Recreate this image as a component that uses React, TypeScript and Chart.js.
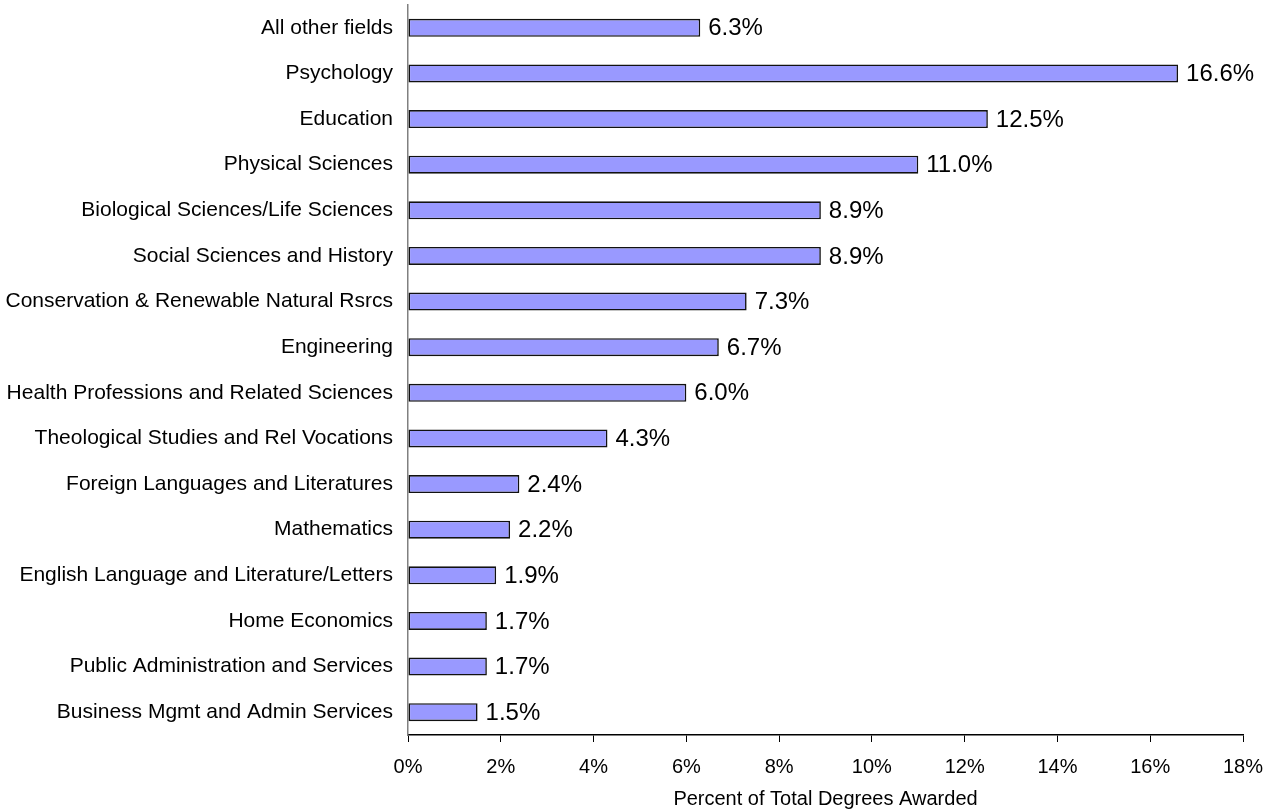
import React, { useEffect, useRef } from "react";
import { Chart, registerables } from "chart.js";

Chart.register(...registerables);

const categories = [
  "All other fields",
  "Psychology",
  "Education",
  "Physical Sciences",
  "Biological Sciences/Life Sciences",
  "Social Sciences and History",
  "Conservation & Renewable Natural Rsrcs",
  "Engineering",
  "Health Professions and Related Sciences",
  "Theological Studies and Rel Vocations",
  "Foreign Languages and Literatures",
  "Mathematics",
  "English Language and Literature/Letters",
  "Home Economics",
  "Public Administration and Services",
  "Business Mgmt and Admin Services",
];

const percentValues = [6.3, 16.6, 12.5, 11.0, 8.9, 8.9, 7.3, 6.7, 6.0, 4.3, 2.4, 2.2, 1.9, 1.7, 1.7, 1.5];

const xAxisTitle = "Percent of Total Degrees Awarded";
const FONT = "'Liberation Sans', Arial, sans-serif";

const valueLabelPlugin = {
  id: "valueLabels",
  afterDatasetsDraw(chart: any) {
    const ctx = chart.ctx;
    const meta = chart.getDatasetMeta(0);
    ctx.save();
    ctx.font = `24px ${FONT}`;
    ctx.fillStyle = "#000";
    ctx.textAlign = "left";
    ctx.textBaseline = "middle";
    meta.data.forEach((el: any, i: number) => {
      const v = chart.data.datasets[0].data[i] as number;
      ctx.fillText(v.toFixed(1) + "%", el.x + 8, el.y + 1);
    });
    ctx.restore();
  },
};

export default function App() {
  const ref = useRef<HTMLCanvasElement | null>(null);
  useEffect(() => {
    if (!ref.current) return;
    const chart = new Chart(ref.current, {
      type: "bar",
      data: {
        labels: categories,
        datasets: [
          {
            data: percentValues,
            backgroundColor: "#9999FF",
            borderColor: "#111",
            borderWidth: 1.6,
            borderSkipped: false,
            barPercentage: 0.8,
            categoryPercentage: 0.49,
          },
        ],
      },
      options: {
        indexAxis: "y",
        animation: false,
        responsive: false,
        maintainAspectRatio: false,
        layout: { padding: { top: 5, right: 30, left: 0, bottom: 0 } },
        plugins: {
          legend: { display: false },
          tooltip: { enabled: false },
        },
        scales: {
          x: {
            min: 0,
            max: 18,
            ticks: {
              stepSize: 2,
              color: "#000",
              font: { family: FONT, size: 20 },
              padding: 13,
              maxRotation: 0,
              callback: (v: any) => v + "%",
            },
            grid: {
              display: true,
              drawOnChartArea: false,
              drawTicks: true,
              tickLength: 7,
              color: "#000",
            },
            border: { display: true, color: "#000", width: 1.5 },
            title: {
              display: true,
              text: xAxisTitle,
              color: "#000",
              font: { family: FONT, size: 20 },
              padding: { top: 6, bottom: 0 },
            },
            afterFit: (scale: any) => {
              scale.height = 76;
              scale.paddingLeft = 0;
              scale.paddingRight = 0;
            },
          },
          y: {
            ticks: {
              color: "#000",
              font: { family: FONT, size: 21 },
              padding: 15,
              autoSkip: false,
            },
            grid: { display: false, drawTicks: false },
            border: { display: true, color: "#808080", width: 1.5 },
            afterFit: (scale: any) => {
              scale.width = 408;
              scale.paddingTop = 0;
              scale.paddingBottom = 0;
            },
          },
        },
      },
      plugins: [valueLabelPlugin],
    });
    return () => chart.destroy();
  }, []);
  return (
    <div style={{ position: "fixed", left: 0, top: 0, width: 1273, height: 811, background: "#fff" }}>
      <canvas ref={ref} width={1273} height={811} style={{ width: 1273, height: 811 }} />
    </div>
  );
}
